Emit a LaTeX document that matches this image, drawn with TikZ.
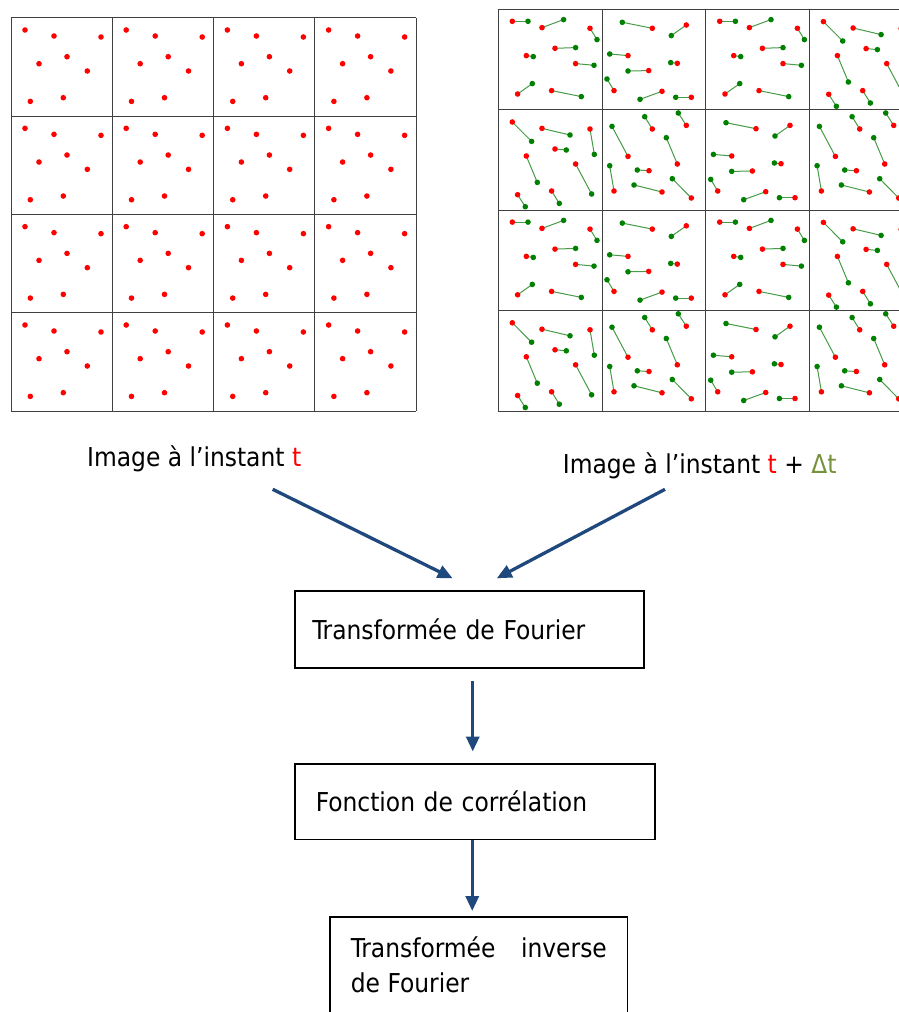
\documentclass[tikz,border=0pt]{standalone}
\usepackage{fontspec}
\setmainfont{DejaVu Sans Condensed}
\usetikzlibrary{positioning, arrows.meta}

\definecolor{bleufleche}{RGB}{31,73,125}
\definecolor{rougept}{RGB}{255,0,0}
\definecolor{vertpt}{RGB}{0,128,0}
\definecolor{vertligne}{RGB}{70,155,70}
\definecolor{vertdelta}{RGB}{118,146,60}

% motif des particules a l'instant t (x/y dans la cellule)
\newcommand\motifgauche{13.7/12.3, 42.7/18.3, 89.7/19.3, 27.7/46, 55.7/39, 76/53.3, 19/83.7, 52/80}
% motifs a t + dt : rouge x/y puis vert x/y
\newcommand\motifA{14/12/29.7/12, 43.7/18.3/65.3/10.3, 91.7/19/98.7/30.3, 56.7/39/77.3/38.3,
  28/46.3/35/47.3, 77.3/54.3/95.7/56, 19.3/84.7/34/74.3, 53.3/81.3/83/87.3}
\newcommand\motifB{50.3/19/20.3/13, 84.3/15.7/69.3/26.3, 26/46.3/7.7/44.7, 46.7/61.3/26/61.7,
  75.3/54/68.7/53.3, 12/81.3/5/69.7, 60/82/38/90, 89.3/88/73.7/88}
\newcommand\motifC{14/12.3/33.3/31.7, 43.7/18.7/71.7/25.3, 91.7/19.3/96/44.7, 56.7/39.3/68/40.3,
  28/46.3/39/72.7, 77.3/54.3/93.3/84.3, 19.3/85/27/97, 53.3/81.3/61/93.7}
\newcommand\motifD{26/46.7/10/16.7, 50.3/19.3/42.7/7, 84.3/15.7/76.3/3.3, 75.3/54.3/64.3/28,
  12/81.3/7.7/56, 47/61/35.3/60.3, 60/82.3/32/75.3, 89.3/88.3/70.3/69}

\begin{document}
\begin{tikzpicture}[
  x=1pt, y=-1pt,
  trait/.style={draw=black!75, line width=1pt},
  ptrouge/.style={fill=rougept},
  ptvert/.style={fill=vertpt},
  lien/.style={draw=vertligne, line width=1pt},
  etiquette/.style={inner sep=0pt, font=\fontsize{26}{35}\selectfont},
  box/.style={rectangle, draw, line width=1.5pt, align=left,
              font=\fontsize{26}{35}\selectfont},
  arr/.style={-{Triangle[width=13pt,length=15pt]}, line width=3.3pt, draw=bleufleche},
]
\useasboundingbox (0,0) rectangle (899,1012);
\clip (0,0) rectangle (899,1012);

% Image a l'instant t (grille de gauche)
\foreach \c in {0,...,3} {
  \foreach \l in {0,...,3} {
    \begin{scope}[shift={({11.3+\c*101.2},{17.7+\l*98.33})}]
      \foreach \px/\py in \motifgauche
        \fill[ptrouge] (\px,\py) circle[radius=2.8pt];
    \end{scope}
  }
}
\foreach \i in {0,...,4} {
  \draw[trait] ({11.3+\i*101.2},17.7) -- ({11.3+\i*101.2},411);
  \draw[trait] (11.3,{17.7+\i*98.33}) -- (416.1,{17.7+\i*98.33});
}

% Image a l'instant t + dt (grille de droite, coupee a droite)
\foreach \mot/\cases in {A/{0/0,2/0,0/2,2/2}, B/{1/0,2/1,1/2,2/3},
                         C/{3/0,0/1,3/2,0/3}, D/{1/1,3/1,1/3,3/3}} {
  \foreach \c/\l in \cases {
    \begin{scope}[shift={({498.3+\c*103.7},{9.3+\l*100.4})}]
      \expandafter\let\expandafter\motif\csname motif\mot\endcsname
      \foreach \rx/\ry/\gx/\gy in \motif {
        \draw[lien] (\gx,\gy) -- (\rx,\ry);
        \fill[ptvert] (\gx,\gy) circle[radius=2.8pt];
        \fill[ptrouge] (\rx,\ry) circle[radius=2.8pt];
      }
    \end{scope}
  }
}
\foreach \i in {0,...,4} {
  \draw[trait] ({498.3+\i*103.7},9.3) -- ({498.3+\i*103.7},411);
  \draw[trait] (498.3,{9.3+\i*100.43}) -- (913.1,{9.3+\i*100.43});
}

% Etiquettes des deux images
\node[etiquette, anchor=base west] (imgt)  at (87,466)    {Image à l’instant {\color{rougept}t}};
\node[etiquette, anchor=base west] (imgdt) at (562.7,473.3)
  {Image à l’instant {\color{rougept}t} + {\color{vertdelta}Δt}};

% Chaine de traitement
\node[box, anchor=north west, minimum width=349pt, minimum height=77pt,
      text width=314pt, inner xsep=17.5pt] (fourier) at (294,590) {Transformée de Fourier};
\node[box, below=94.7pt of fourier.south west, anchor=north west, minimum width=360pt,
      minimum height=75.6pt, text width=318pt, inner xsep=21pt] (correl) {Fonction de corrélation};
% boite du bas coupee par le bord de l'image
\node[box, below=76pt of correl.south west, anchor=north west, xshift=35.3pt,
      text width=256pt, inner xsep=20.8pt, inner ysep=20pt, align=justify] (inverse)
  {Transformée inverse de Fourier\par\rule[-40pt]{0pt}{0pt}};

% Fleches
\draw[arr] ([shift={(185.7,23.3)}]imgt.base west)  -- ([shift={(-16.6,-11.7)}]fourier.north);
\draw[arr] ([shift={(102.3,16)}]imgdt.base west)   -- ([shift={(27.5,-11.7)}]fourier.north);
\draw[arr] ([shift={(3.5,12.3)}]fourier.south) coordinate (f1)
  -- ([yshift=11.7pt]f1 |- correl.north);
\draw[arr] ([shift={(-2.5,0)}]correl.south) coordinate (c1)
  -- ([yshift=5.3pt]c1 |- inverse.north);
\end{tikzpicture}
\end{document}
